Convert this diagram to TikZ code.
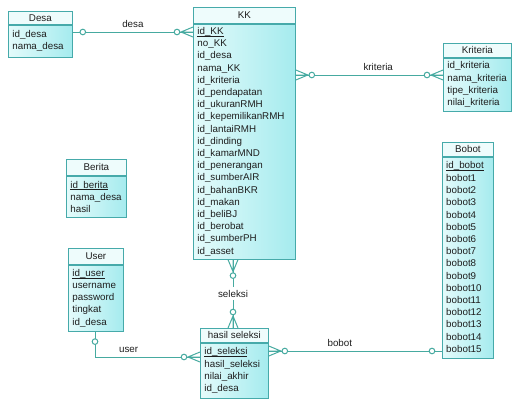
\documentclass[tikz,border=0pt]{standalone}
\usepackage{fontspec}
\setmainfont{Liberation Sans}

\definecolor{erborder}{RGB}{70,170,170}
\definecolor{erfillL}{RGB}{228,251,251}
\definecolor{erfillR}{RGB}{165,235,238}
\definecolor{erhead}{RGB}{238,252,252}
\definecolor{erline}{RGB}{70,170,160}
\definecolor{ertext}{RGB}{30,30,30}

\newcommand{\pkey}[1]{\underline{\raisebox{0pt}[\height][0pt]{#1}}}

\tikzset{
    efont/.style={text=ertext, font=\fontsize{9.8}{12.2}\selectfont},
    ehead/.style={efont, draw=erborder, line width=0.8pt, fill=erhead, anchor=north west, inner sep=0pt},
    ebody/.style={efont, draw=erborder, line width=0.8pt, left color=erfillL, right color=erfillR,
        anchor=north west, inner xsep=4pt, inner ysep=0pt, align=left},
    erow/.style={efont, anchor=west, inner sep=0pt},
    rel/.style={draw=erline, line width=1pt},
    rlabel/.style={efont, inner sep=1pt},
    pics/zone/.style={code={
        \draw[rel, fill=white] (10,0) circle[radius=2.8pt];
    }},
    pics/zmany/.style={code={
        \draw[rel] (0,-5) -- (12,0) -- (0,5) (0,0) -- (12,0);
        \draw[rel, fill=white] (16,0) circle[radius=2.8pt];
    }}
}

\begin{document}
\begin{tikzpicture}[x=1pt, y=-1pt]
    \useasboundingbox (0,0) rectangle (513,399);

    % entities
    \node[ehead, minimum width=64pt, minimum height=13pt] (desah) at (8,11) {Desa};
    \node[ebody, text width=56pt, minimum height=32pt] (desab) at (desah.south west)
        {id\_desa\\nama\_desa};

    \node[ehead, minimum width=102pt, minimum height=16pt] (kkh) at (193,7) {KK};
    \node[ebody, text width=94pt, minimum height=235pt] (kkb) at (kkh.south west)
        {\pkey{id\_KK}\\no\_KK\\id\_desa\\nama\_KK\\id\_kriteria\\id\_pendapatan\\id\_ukuranRMH\\
         id\_kepemilikanRMH\\id\_lantaiRMH\\id\_dinding\\id\_kamarMND\\id\_penerangan\\id\_sumberAIR\\
         id\_bahanBKR\\id\_makan\\id\_beliBJ\\id\_berobat\\id\_sumberPH\\id\_asset};

    \node[ehead, minimum width=68pt, minimum height=14pt] (kriteriah) at (443,43) {Kriteria};
    \node[ebody, text width=60pt, minimum height=53pt] (kriteriab) at (kriteriah.south west)
        {id\_kriteria\\nama\_kriteria\\tipe\_kriteria\\nilai\_kriteria};

    \node[ehead, minimum width=60pt, minimum height=16pt] (beritah) at (66,159) {Berita};
    \node[ebody, text width=52pt, minimum height=41pt] (beritab) at (beritah.south west)
        {\pkey{id\_berita}\\nama\_desa\\hasil};

    \node[ehead, minimum width=55pt, minimum height=16pt] (userh) at (68,248) {User};
    \node[ebody, text width=47pt, minimum height=66pt] (userb) at (userh.south west)
        {\pkey{id\_user}\\username\\password\\tingkat\\id\_desa};

    \node[ehead, minimum width=68pt, minimum height=14pt] (hasilh) at (200,328) {hasil seleksi};
    \node[ebody, text width=60pt, minimum height=55pt] (hasilb) at (hasilh.south west)
        {\pkey{id\_seleksi}\\hasil\_seleksi\\nilai\_akhir\\id\_desa};

    \node[ehead, minimum width=51pt, minimum height=14pt] (bototh) at (442,142) {Bobot};
    \node[ebody, text width=43pt, minimum height=201pt] (bobotb) at (bototh.south west) {};
    \node[erow] (bobot-0) at ([xshift=4pt, yshift=-9pt]bobotb.north west) {\pkey{id\_bobot}};
    \foreach \i in {1,...,15}
        \node[erow] (bobot-\i) at ([xshift=4pt, yshift=-9pt-\i*12.2pt]bobotb.north west) {bobot\i};

    % relations
    \coordinate (ydesa) at (0,32);
    \coordinate (ykrit) at (0,75);
    \coordinate (xsel) at (233,0);
    \coordinate (xuser) at (95,0);
    \coordinate (yuser) at (0,357);
    \coordinate (ybobot) at (0,351);

    \draw[rel] (desab.east |- ydesa) -- node[rlabel, above=3pt] (ldesa) {desa} (kkb.west |- ydesa);
    \draw[rel] (kkb.east |- ykrit) -- node[rlabel, above=3pt, pos=0.56] (lkrit) {kriteria} (kriteriab.west |- ykrit);
    \draw[rel] (kkb.south -| xsel) -- node[rlabel, fill=white, inner ysep=3pt] (lsel) {seleksi} (hasilh.north -| xsel);
    \draw[rel] (userb.south -| xuser) |- node[rlabel, above=3pt, pos=0.66] (luser) {user} (hasilb.west |- yuser);
    \draw[rel] (hasilb.east |- ybobot) -- node[rlabel, above=3pt, pos=0.41] (lbobot) {bobot} (bobotb.west |- ybobot);

    \pic at (desab.east |- ydesa) {zone};
    \pic[rotate=180] at (kkb.west |- ydesa) {zmany};
    \pic at (kkb.east |- ykrit) {zmany};
    \pic[rotate=180] at (kriteriab.west |- ykrit) {zmany};
    \pic[rotate=-90] at (kkb.south -| xsel) {zmany};
    \pic[rotate=90] at (hasilh.north -| xsel) {zmany};
    \pic[rotate=-90] at (userb.south -| xuser) {zone};
    \pic[rotate=180] at (hasilb.west |- yuser) {zmany};
    \pic at (hasilb.east |- ybobot) {zmany};
    \pic[rotate=180] at (bobotb.west |- ybobot) {zone};
\end{tikzpicture}
\end{document}
